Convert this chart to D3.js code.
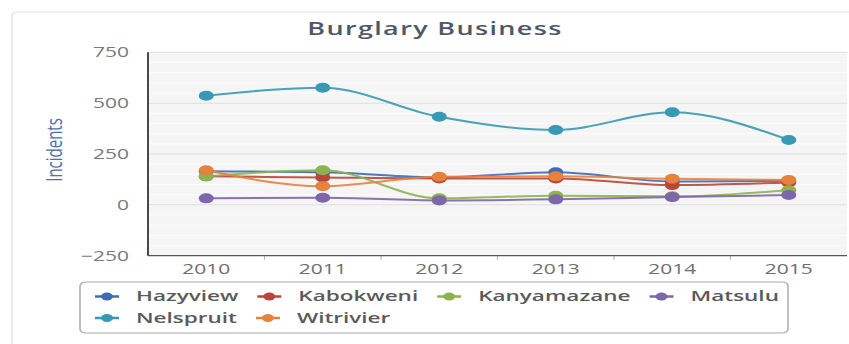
<!DOCTYPE html>
<html>
<head>
<meta charset="utf-8">
<script src="https://cdn.jsdelivr.net/npm/d3@7"></script>
<style>
  html, body { margin: 0; padding: 0; background: #fff; }
  svg { display: block; }
  text { font-family: "Open Sans", sans-serif; }
</style>
</head>
<body>
<svg id="chart"></svg>
<script>
// Burglary (business premises) incidents per station, 2010-2015
const years = ["2010", "2011", "2012", "2013", "2014", "2015"];
const stations = ["Hazyview", "Kabokweni", "Kanyamazane", "Matsulu", "Nelspruit", "Witrivier"];
const hazyview    = [165, 160, 135, 160, 115, 118];
const kabokweni   = [140, 135, 130, 130, 97, 110];
const kanyamazane = [140, 170, 32, 45, 42, 72];
const matsulu     = [32, 35, 22, 27, 38, 48];
const nelspruit   = [536, 576, 433, 368, 455, 319];
const witrivier   = [170, 92, 138, 140, 128, 122];
const yTicks = [-250, 0, 250, 500, 750];
const colors = ["#3d6cb0", "#b9463b", "#8db24f", "#7d66a9", "#3799b3", "#e5823d"];

const seriesValues = [hazyview, kabokweni, kanyamazane, matsulu, nelspruit, witrivier];

// The drawing is laid out on a narrow canvas and widened to the page width.
const pageW = 849, pageH = 344, sx = 1.5;
const W = pageW / sx, H = pageH;

const svg = d3.select("#chart")
  .attr("width", pageW).attr("height", pageH)
  .attr("viewBox", `0 0 ${W} ${H}`)
  .attr("preserveAspectRatio", "none");

// outer panel
svg.append("rect")
  .attr("x", 8).attr("y", 12).attr("width", W + 20).attr("height", H + 20)
  .attr("rx", 4).attr("fill", "#fff")
  .attr("stroke", "#e4e4e4").attr("stroke-width", 1);

const plot = { left: 148 / sx, right: 847 / sx, top: 52.3, bottom: 255.7 };

const x = d3.scaleBand().domain(years).range([plot.left, plot.right]).padding(0);
const cx = d => x(d) + x.bandwidth() / 2;
const y = d3.scaleLinear().domain([-250, 750]).range([plot.bottom, plot.top]);

// plot background
svg.append("rect")
  .attr("x", plot.left).attr("y", plot.top)
  .attr("width", plot.right - plot.left).attr("height", plot.bottom - plot.top)
  .attr("fill", "#f5f5f5");

// minor grid
const minor = d3.range(-250, 751, 50).filter(v => !yTicks.includes(v));
svg.append("g").selectAll("line").data(minor).join("line")
  .attr("x1", plot.left).attr("x2", plot.right)
  .attr("y1", d => y(d)).attr("y2", d => y(d))
  .attr("stroke", "#fbfbfb").attr("stroke-width", 1.2);

// major grid
svg.append("g").selectAll("line").data(yTicks.filter(v => v > -250)).join("line")
  .attr("x1", plot.left).attr("x2", plot.right)
  .attr("y1", d => y(d)).attr("y2", d => y(d))
  .attr("stroke", "#dedede").attr("stroke-width", 1);

// y axis labels
const yAxis = d3.axisLeft(y).tickValues(yTicks).tickSize(0).tickPadding(12.7)
  .tickFormat(d => d < 0 ? "\u2212" + Math.abs(d) : d);
const gy = svg.append("g").attr("transform", `translate(${plot.left},0)`).call(yAxis);
gy.select(".domain").remove();
gy.selectAll("text").attr("font-size", 14).attr("fill", "#7a7a7a")
  .style("font-family", "'Open Sans', sans-serif");

// x axis labels + category separators
const xAxis = d3.axisBottom(x).tickSize(0).tickPadding(8);
const gx = svg.append("g").attr("transform", `translate(0,${plot.bottom})`).call(xAxis);
gx.select(".domain").remove();
gx.selectAll("text").attr("font-size", 14).attr("fill", "#6f6f6f")
  .attr("dy", "0.71em")
  .style("font-family", "'Open Sans', sans-serif");
svg.append("g").selectAll("line").data(years.slice(1)).join("line")
  .attr("x1", d => x(d)).attr("x2", d => x(d))
  .attr("y1", plot.bottom).attr("y2", plot.bottom + 4)
  .attr("stroke", "#b5b5b5").attr("stroke-width", 0.8);

// axis lines
svg.append("line")
  .attr("x1", plot.left).attr("x2", plot.left)
  .attr("y1", plot.top).attr("y2", plot.bottom)
  .attr("stroke", "#444").attr("stroke-width", 1.3);
svg.append("line")
  .attr("x1", plot.left).attr("x2", plot.right)
  .attr("y1", plot.bottom).attr("y2", plot.bottom)
  .attr("stroke", "#555").attr("stroke-width", 1.3);

// axis title
svg.append("text")
  .attr("transform", `translate(${56 / sx},150) rotate(-90)`)
  .attr("text-anchor", "middle").attr("dominant-baseline", "middle")
  .attr("font-size", 15).attr("fill", "#4f72a6")
  .text("Incidents");

// chart title
svg.append("text")
  .attr("x", 435 / sx).attr("y", 35)
  .attr("text-anchor", "middle")
  .attr("font-size", 18).attr("font-weight", 600)
  .attr("letter-spacing", 0.9)
  .attr("fill", "#4e5866")
  .text("Burglary Business");

// series
const line = d3.line().x((d, i) => cx(years[i])).y(d => y(d)).curve(d3.curveMonotoneX);
const gs = svg.append("g");
stations.forEach((name, k) => {
  const vals = seriesValues[k];
  const g = gs.append("g");
  g.append("path").datum(vals)
    .attr("d", line).attr("fill", "none")
    .attr("stroke", colors[k]).attr("stroke-width", 2).attr("stroke-opacity", 0.9);
  g.selectAll("circle").data(vals).join("circle")
    .attr("cx", (d, i) => cx(years[i])).attr("cy", d => y(d))
    .attr("r", 5).attr("fill", colors[k]);
});

// legend
const legend = { x0: 80 / sx, x1: 788 / sx, y0: 282, y1: 333 };
svg.append("rect")
  .attr("x", legend.x0).attr("y", legend.y0)
  .attr("width", legend.x1 - legend.x0).attr("height", legend.y1 - legend.y0)
  .attr("rx", 4).attr("fill", "#fff")
  .attr("stroke", "#a9a9a9").attr("stroke-width", 1);

const rowY = [296.5, 318];
const startX = 95 / sx, markerW = 24 / sx, textOff = 41 / sx, gap = 19 / sx;
let lx = startX, row = 0;
stations.forEach((name, k) => {
  const g = svg.append("g");
  const t = g.append("text")
    .attr("font-size", 15).attr("font-weight", 600).attr("fill", "#5a5a5a")
    .attr("dominant-baseline", "middle")
    .text(name);
  const tw = t.node().getComputedTextLength();
  if (lx + textOff + tw > legend.x1 - 4 / sx) { row += 1; lx = startX; }
  const cy = rowY[row];
  t.attr("x", lx + textOff).attr("y", cy + 0.5);
  g.append("line")
    .attr("x1", lx).attr("x2", lx + markerW)
    .attr("y1", cy).attr("y2", cy)
    .attr("stroke", colors[k]).attr("stroke-width", 2.5);
  g.append("circle")
    .attr("cx", lx + markerW / 2).attr("cy", cy).attr("r", 4)
    .attr("fill", colors[k]);
  lx += textOff + tw + gap;
});
</script>
</body>
</html>
